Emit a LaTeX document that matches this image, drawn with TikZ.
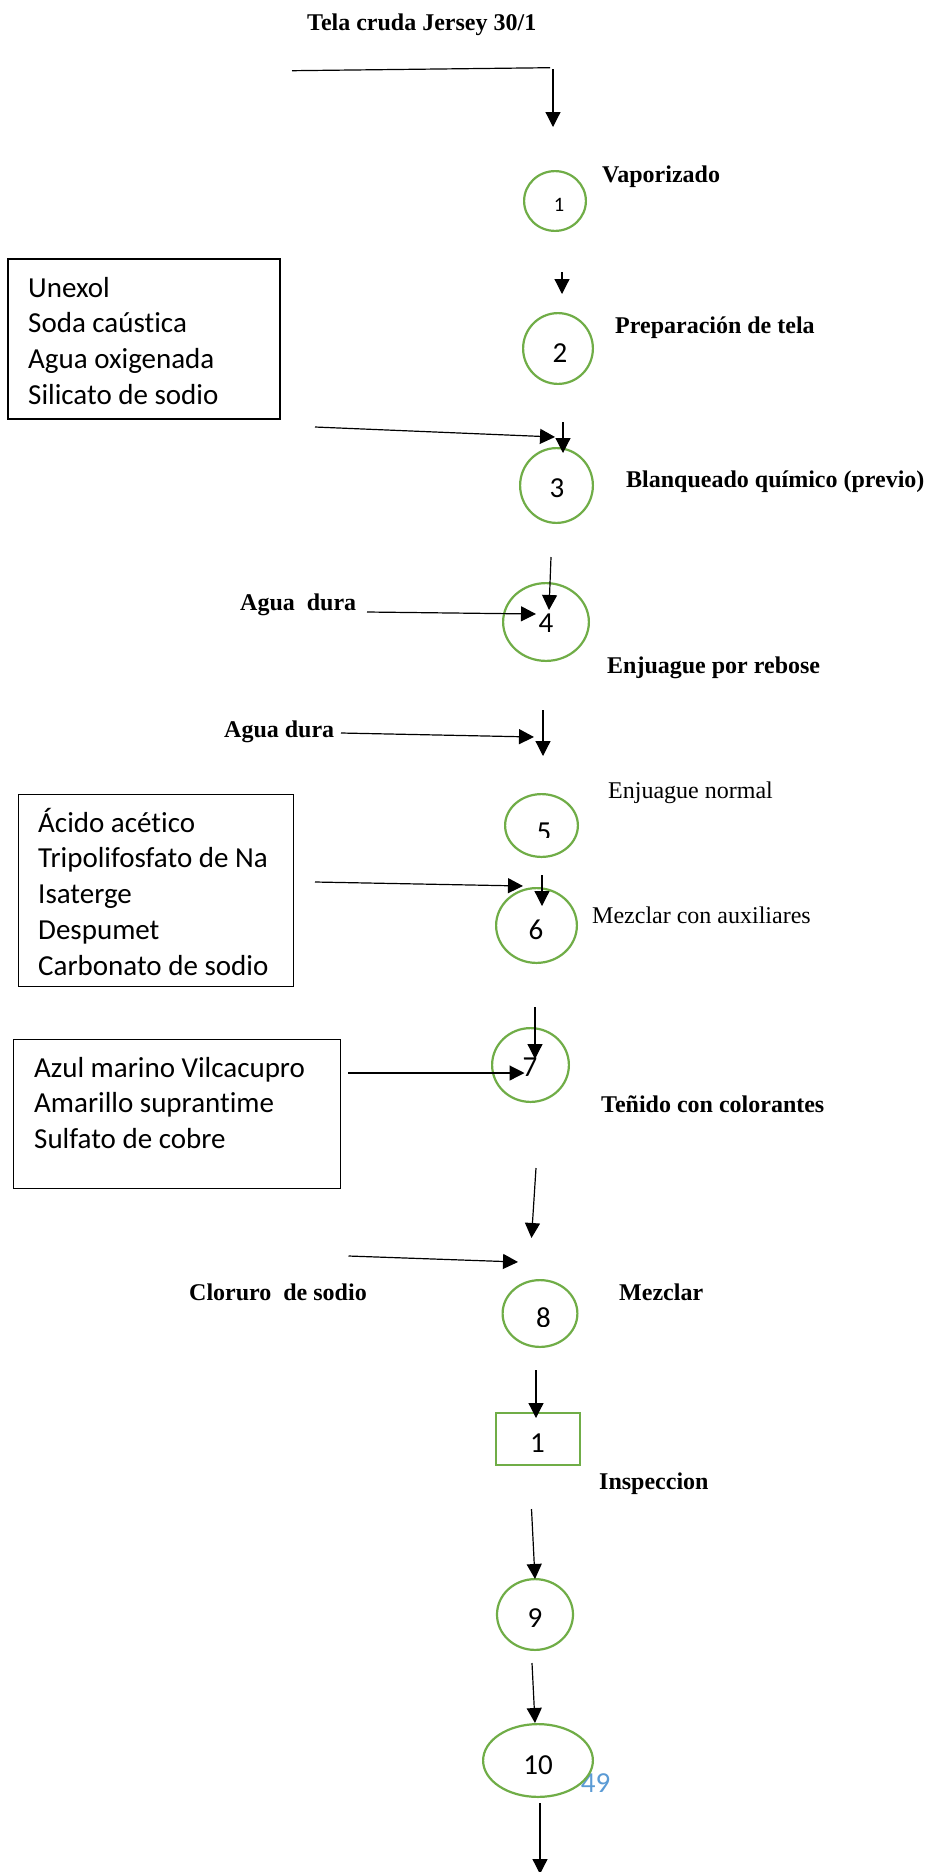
\documentclass[tikz,border=0pt]{standalone}
\usepackage{fontspec}
\setmainfont{Liberation Serif}
\newfontfamily\calib[Ligatures=NoCommon]{Carlito}
\usetikzlibrary{arrows.meta,shapes.geometric}
\definecolor{grn}{HTML}{70AD47}
\definecolor{pgblue}{HTML}{5B9BD5}
\begin{document}
\begin{tikzpicture}[x=1pt,y=-1pt,
  proc/.style={ellipse,draw=grn,line width=2.2pt,fill=white,inner sep=0pt},
  insp/.style={rectangle,draw=grn,line width=2.2pt,fill=white,inner sep=0pt},
  num/.style={font=\calib\fontsize{29}{35.7}\selectfont,inner sep=0pt},
  lbl/.style={font=\bfseries\fontsize{24}{28}\selectfont,inner sep=0pt,anchor=base west},
  lblr/.style={font=\fontsize{24}{28}\selectfont,inner sep=0pt,anchor=base west},
  matbox/.style={rectangle,draw=black,inner sep=0pt},
  mattext/.style={font=\calib\fontsize{29}{35.7}\selectfont,align=left,inner sep=0pt,anchor=north west},
  flow/.style={line width=1.2pt,-{Triangle[width=15pt,length=15pt]}}]
\useasboundingbox (0,0) rectangle (926,1872);
\fill[white] (0,0) rectangle (926,1872);

% page number (behind circle 10)
\node[num,text=pgblue] (pg) at (595.5,1783) {49};

% process shapes
\node[proc,minimum width=61.8pt,minimum height=59.8pt] (c1) at (555,201) {};
\node[proc,minimum width=69.8pt,minimum height=70.8pt] (c2) at (558,348.5) {};
\node[proc,minimum width=72.8pt,minimum height=74.8pt] (c3) at (556.5,485.5) {};
\node[proc,minimum width=85.8pt,minimum height=77.8pt] (c4) at (546,622) {};
\node[proc,minimum width=72.8pt,minimum height=62.8pt] (c5) at (541.5,825.5) {};
\node[proc,minimum width=80.8pt,minimum height=74.8pt] (c6) at (536.5,925.5) {};
\node[proc,minimum width=76.8pt,minimum height=73.8pt] (c7) at (530.5,1065) {};
\node[proc,minimum width=74.8pt,minimum height=66.8pt] (c8) at (540,1313.5) {};
\node[insp,minimum width=83.8pt,minimum height=51.8pt] (r1) at (538,1439) {};
\node[proc,minimum width=76pt,minimum height=70.8pt] (c9) at (535,1614.5) {};
\node[proc,minimum width=109.8pt,minimum height=72.8pt] (c10) at (538,1760.5) {};

% numbers
\node[num,font=\calib\fontsize{20.5}{24}\selectfont] (n1) at (559,204.5) {1};
\node[num] (n2) at (560,353) {2};
\node[num] (n3) at (557,488) {3};
\node[num] (n4) at (546,623) {4};
\begin{scope}
  \clip (500,800) rectangle (590,837);
  \node[num] (n5) at (544,832) {5};
\end{scope}
\node[num] (n6) at (536,930) {6};
\node[num] (n7) at (530,1067) {7};
\begin{scope}
  \clip (500,1290) rectangle (590,1326);
  \node[num] (n8) at (543.5,1318) {8};
\end{scope}
\node[num] (nr1) at (537.5,1443) {1};
\node[num] (n9) at (535,1618) {9};
\node[num] (n10) at (538,1765) {10};

% labels
\node[lbl] (title) at (307,30) {Tela cruda Jersey 30/1};
\node[lbl] (l1) at (602,182) {Vaporizado};
\node[lbl] (l2) at (615,333) {Preparación de tela};
\node[lbl] (l3) at (626,487) {Blanqueado químico (previo)};
\node[lbl] (in4) at (240,610) {Agua~~dura};
\node[lbl] (l4) at (607,673) {Enjuague por rebose};
\node[lbl] (in5) at (224,737) {Agua dura};
\node[lblr] (l5) at (608,798) {Enjuague normal};
\node[lblr] (l6) at (592,923) {Mezclar con auxiliares};
\node[lbl] (l7) at (601,1112) {Teñido con colorantes};
\node[lbl] (in8) at (189,1300) {Cloruro~~de sodio};
\node[lbl] (l8) at (619,1300) {Mezclar};
\node[lbl] (lr1) at (599,1489) {Inspeccion};

% material boxes
\node[matbox,line width=2pt,minimum width=272pt,minimum height=160pt] (b1) at (144,339) {};
\node[mattext] (t1) at (28,272) {\strut Unexol\\Soda caústica\\Agua oxigenada\\Silicato de sodio};
\node[matbox,line width=1.2pt,minimum width=274.8pt,minimum height=191.8pt] (b2) at (156,890.5) {};
\node[mattext] (t2) at (38,807) {\strut Ácido acético\\Tripolifosfato de Na\\Isaterge\\Despumet\\Carbonato de sodio};
\node[matbox,line width=1.2pt,minimum width=326.8pt,minimum height=148.8pt] (b3) at (177,1114) {};
\node[mattext] (t3) at (34,1052) {\strut Azul marino Vilcacupro\\Amarillo suprantime\\Sulfato de cobre};

% connector end points
\coordinate (h0) at (292,70.7);
\coordinate (h1) at (550,67.7);
\coordinate (a1s) at (553,69);     \coordinate (a1e) at (553,127);
\coordinate (a2s) at (562,272);    \coordinate (a2e) at (562,294);
\coordinate (a3s) at (315,427);    \coordinate (a3e) at (555,437);
\coordinate (a4s) at (563,422);    \coordinate (a4e) at (563,453);
\coordinate (a5s) at (551,557);    \coordinate (a5e) at (549,610);
\coordinate (a6s) at (367,612);    \coordinate (a6e) at (536,614);
\coordinate (a7s) at (341,733);    \coordinate (a7e) at (534,737);
\coordinate (a8s) at (543,710);    \coordinate (a8e) at (543,756);
\coordinate (a9s) at (315,882);    \coordinate (a9e) at (523,886);
\coordinate (a10s) at (542,875);   \coordinate (a10e) at (542,906);
\coordinate (a11s) at (535,1007);  \coordinate (a11e) at (535,1059);
\coordinate (a12s) at (348,1073);  \coordinate (a12e) at (524.5,1073);
\coordinate (a13s) at (536,1168);  \coordinate (a13e) at (531.5,1238);
\coordinate (a14s) at (348.5,1256);\coordinate (a14e) at (518,1262);
\coordinate (a15s) at (536,1370);  \coordinate (a15e) at (536,1418);
\coordinate (a16s) at (531.5,1509);\coordinate (a16e) at (535,1579);
\coordinate (a17s) at (532,1663);  \coordinate (a17e) at (535,1723);
\coordinate (a18s) at (540,1803);  \coordinate (a18e) at (540,1874);

% connectors
\draw[line width=1.2pt] (h0) -- (h1);
\foreach \k in {1,...,18}{
  \draw[flow] (a\k s) -- (a\k e);
}
\end{tikzpicture}
\end{document}
